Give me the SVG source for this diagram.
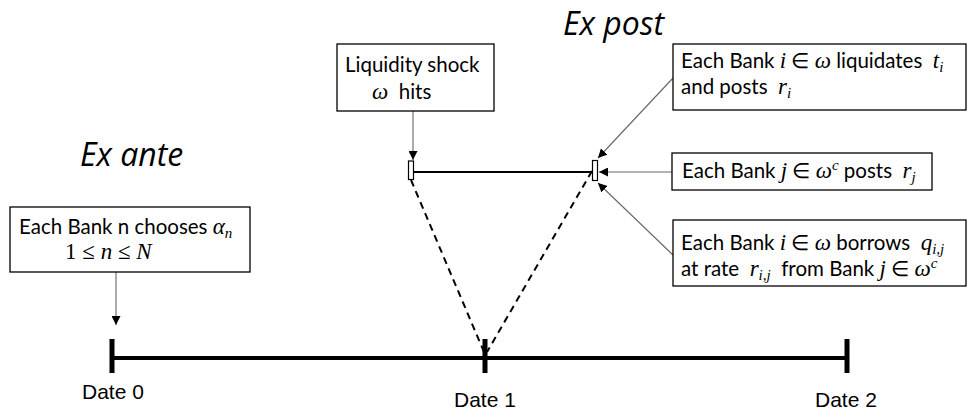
<svg xmlns="http://www.w3.org/2000/svg" width="979" height="416" viewBox="0 0 979 416">
<defs>
<style>
.box{fill:#fff;stroke:#000;stroke-width:1.3}
.t{font-family:Lato,"Open Sans",sans-serif;font-size:20.5px;fill:#000;white-space:pre}
.m{font-family:"Liberation Serif","DejaVu Serif",serif;font-style:italic;font-size:23px}
.u{font-family:"Liberation Serif","DejaVu Serif",serif;font-style:normal;font-size:23px}
.s{font-size:15px}
.h{font-family:"Open Sans",Lato,sans-serif;font-style:italic;font-size:32px;fill:#000}
.d{font-family:"Liberation Sans",Arial,sans-serif;font-size:21px;fill:#000}
.conn{stroke:#666;stroke-width:1.1;fill:none}
.dash{stroke:#000;stroke-width:2;stroke-dasharray:7,5;fill:none}
</style>
<marker id="ah" viewBox="0 0 10 10" refX="10" refY="5" markerWidth="9" markerHeight="9" markerUnits="userSpaceOnUse" orient="auto">
<path d="M0,0 L10,5 L0,10 z" fill="#000"/>
</marker>
</defs>

<g id="labels">
<text class="h" x="563" y="35">Ex post</text>
<text class="h" x="80" y="166">Ex ante</text>
</g>

<g id="timeline">
<line x1="112" y1="358" x2="847" y2="358" stroke="#000" stroke-width="4"/>
<line x1="112" y1="339" x2="112" y2="373" stroke="#000" stroke-width="5"/>
<line x1="485" y1="339" x2="485" y2="373" stroke="#000" stroke-width="5"/>
<line x1="847" y1="339" x2="847" y2="373" stroke="#000" stroke-width="5"/>
<text class="d" x="82" y="399">Date 0</text>
<text class="d" x="454" y="407">Date 1</text>
<text class="d" x="815" y="407">Date 2</text>
</g>

<g id="expost-line">
<line x1="413" y1="172" x2="595" y2="172" stroke="#000" stroke-width="2"/>
<rect x="408.5" y="161" width="5" height="18.5" fill="#fff" stroke="#000" stroke-width="1.2"/>
<rect x="592.5" y="160.5" width="5" height="20" fill="#fff" stroke="#000" stroke-width="1.2"/>
</g>

<g id="connectors">
<line class="dash" x1="411" y1="180" x2="484" y2="352"/>
<line class="dash" x1="592" y1="171" x2="487" y2="352"/>
<line class="conn" x1="116" y1="272" x2="116" y2="325" marker-end="url(#ah)"/>
<line class="conn" x1="413" y1="111" x2="413" y2="160" marker-end="url(#ah)"/>
<line class="conn" x1="673" y1="78" x2="598" y2="158" marker-end="url(#ah)"/>
<line class="conn" x1="672" y1="172" x2="599" y2="172" marker-end="url(#ah)"/>
<line class="conn" x1="673" y1="255" x2="598" y2="183" marker-end="url(#ah)"/>
</g>

<g id="node-choose">
<rect class="box" x="10" y="207" width="240" height="65"/>
<text class="t" x="19" y="234">Each Bank n chooses <tspan class="m">α</tspan><tspan class="m s" dy="4">n</tspan></text>
<text class="t" x="65" y="259"><tspan class="u">1 ≤ </tspan><tspan class="m">n</tspan><tspan class="u"> ≤ </tspan><tspan class="m">N</tspan></text>
</g>

<g id="node-shock">
<rect class="box" x="337" y="44" width="157" height="67"/>
<text class="t" x="345" y="72">Liquidity shock</text>
<text class="t" x="372" y="99"><tspan class="m">ω</tspan>  hits</text>
</g>

<g id="node-liquidates">
<rect class="box" x="673" y="44" width="293" height="66"/>
<text class="t" x="681" y="68">Each Bank <tspan class="m">i</tspan> ∈ <tspan class="m">ω</tspan> liquidates  <tspan class="m">t</tspan><tspan class="m s" dy="4">i</tspan></text>
<text class="t" x="681" y="94">and posts  <tspan class="m">r</tspan><tspan class="m s" dy="4">i</tspan></text>
</g>

<g id="node-posts">
<rect class="box" x="672" y="153" width="260" height="37"/>
<text class="t" x="682" y="178">Each Bank <tspan class="m">j</tspan> ∈ <tspan class="m">ω</tspan><tspan class="m s" dy="-8">c</tspan><tspan dy="8"> posts  </tspan><tspan class="m">r</tspan><tspan class="m s" dy="4">j</tspan></text>
</g>

<g id="node-borrows">
<rect class="box" x="673" y="220" width="293" height="66"/>
<text class="t" x="681" y="250">Each Bank <tspan class="m">i</tspan> ∈ <tspan class="m">ω</tspan> borrows  <tspan class="m">q</tspan><tspan class="m s" dy="4">i,j</tspan></text>
<text class="t" x="681" y="276">at rate  <tspan class="m">r</tspan><tspan class="m s" dy="4">i,j</tspan><tspan dy="-4">  from Bank </tspan><tspan class="m">j</tspan> ∈ <tspan class="m">ω</tspan><tspan class="m s" dy="-8">c</tspan></text>
</g>
</svg>
